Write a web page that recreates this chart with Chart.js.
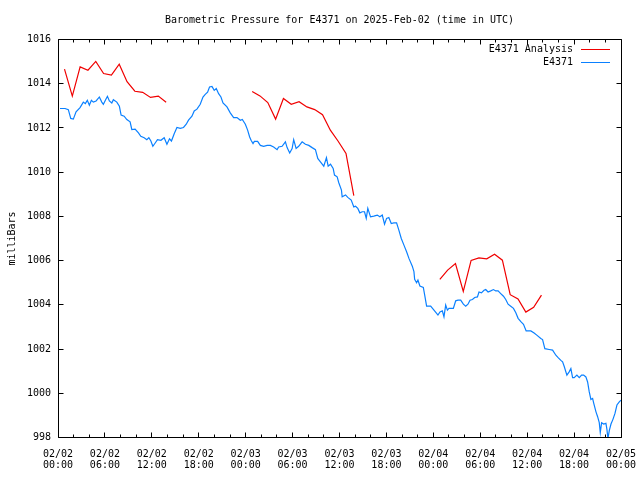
<!DOCTYPE html>
<html>
<head>
<meta charset="utf-8">
<script src="https://cdn.jsdelivr.net/npm/chart.js@4.4.1/dist/chart.umd.min.js"></script>
<style>
  html, body { margin: 0; padding: 0; background: #fff; }
</style>
</head>
<body>
<canvas id="chart" width="640" height="480"></canvas>
<script>
const titleText = "Barometric Pressure for E4371 on 2025-Feb-02 (time in UTC)";
const yTitle = "milliBars";
const seriesNames = ["E4371 Analysis", "E4371"];
const seriesColors = ["#f00000", "#0a80ff"];

// tick labels every 6 hours from 02/02 00:00
const dayLabels = ["02/02", "02/02", "02/02", "02/02", "02/03", "02/03", "02/03", "02/03", "02/04", "02/04", "02/04", "02/04", "02/05"];
const timeLabels = ["00:00", "06:00", "12:00", "18:00", "00:00", "06:00", "12:00", "18:00", "00:00", "06:00", "12:00", "18:00", "00:00"];

// analysis, hours since 02/02 00:00 (null = gap)
const analysisHours = [0.83, 1.83, 2.83, 3.83, 4.83, 5.83, 6.83, 7.83, 8.83, 9.83, 10.83, 11.83, 12.83, 13.83,
  19,
  24.83, 25.83, 26.83, 27.83, 28.83, 29.83, 30.83, 31.83, 32.83, 33.83, 34.83, 35.83, 36.83, 37.83,
  43,
  48.83, 49.83, 50.83, 51.83, 52.83, 53.83, 54.83, 55.83, 56.83, 57.83, 58.83, 59.83, 60.83, 61.83];
const analysisMb = [1014.66, 1013.44, 1014.76, 1014.61, 1015.01, 1014.46, 1014.39, 1014.88, 1014.09, 1013.66, 1013.61, 1013.38, 1013.44, 1013.16,
  null,
  1013.65, 1013.45, 1013.15, 1012.40, 1013.33, 1013.07, 1013.19, 1012.95, 1012.83, 1012.60, 1011.90, 1011.40, 1010.85, 1008.94,
  null,
  1005.15, 1005.57, 1005.87, 1004.61, 1006.01, 1006.12, 1006.08, 1006.29, 1006.02, 1004.46, 1004.27, 1003.67, 1003.89, 1004.44];

// station observations
const obsHours = [0.26, 0.90, 1.32, 1.63, 1.96, 2.31, 2.82, 3.24, 3.50, 3.75, 4.01, 4.27, 4.52, 4.87, 5.29, 5.60, 5.80,
  6.06, 6.32, 6.57, 6.88, 7.08, 7.52, 7.85, 8.07, 8.46, 8.80, 9.22, 9.44, 9.86, 10.29, 10.59, 11.02, 11.36, 11.62, 11.88,
  12.13, 12.43, 12.72, 13.16, 13.58, 13.93, 14.26, 14.51, 14.86, 15.21, 15.63, 16.05, 16.40, 16.69, 17.13, 17.42, 17.77,
  18.19, 18.54, 18.83, 19.13, 19.38, 19.69, 19.98, 20.24, 20.54, 20.84, 21.10, 21.61, 22.03, 22.46, 22.89, 23.32, 23.57, 23.96,
  24.25, 24.51, 24.69, 24.94, 25.11, 25.53, 25.88, 26.30, 26.74, 27.16, 27.58, 28.02, 28.22, 28.66, 29.08, 29.30, 29.63, 29.94,
  30.14, 30.45, 30.78, 31.22, 31.64, 32.07, 32.50, 32.92, 33.22, 33.56, 33.99, 34.33, 34.55, 34.85, 35.19, 35.36, 35.70, 35.91,
  36.25, 36.34, 36.77, 37.06, 37.50, 37.83, 38.05, 38.34, 38.60, 38.91, 39.20, 39.42, 39.62, 39.97, 40.39, 40.83, 41.16, 41.47,
  41.76, 42.02, 42.31, 42.62, 42.95, 43.30, 43.59, 43.90, 44.24, 44.58, 44.88, 45.31, 45.52, 45.61, 45.86, 46.03, 46.28, 46.72,
  46.89, 47.14, 47.66, 48.08, 48.42, 48.59, 48.85, 49.15, 49.36, 49.58, 49.80, 50.00, 50.56, 50.86, 51.15, 51.50, 51.84, 52.14,
  52.43, 52.69, 53.00, 53.29, 53.64, 53.84, 54.15, 54.48, 54.70, 55.00, 55.34, 55.69, 55.98, 56.28, 56.62, 56.97, 57.26, 57.56,
  57.90, 58.25, 58.55, 58.84, 59.19, 59.53, 59.87, 60.47, 60.89, 61.23, 61.75, 61.97, 62.26, 62.81, 63.25, 63.67, 63.96, 64.31,
  64.53, 64.73, 65.08, 65.37, 65.59, 65.81, 66.01, 66.36, 66.66, 66.96, 67.22, 67.51, 67.73, 67.94, 68.15, 68.37, 68.50, 68.80,
  69.01, 69.22, 69.35, 69.52, 69.78, 70.07, 70.20, 70.33, 70.50, 70.72, 70.97, 71.23, 71.48, 71.78, 72.00];
const obsMb = [1012.88, 1012.88, 1012.83, 1012.43, 1012.40, 1012.73, 1012.92, 1013.17, 1013.10, 1013.25, 1013.03, 1013.25, 1013.17, 1013.22, 1013.40, 1013.17, 1013.07,
  1013.25, 1013.43, 1013.22, 1013.13, 1013.28, 1013.17, 1012.98, 1012.58, 1012.53, 1012.38, 1012.28, 1011.93, 1011.95, 1011.78, 1011.62, 1011.56, 1011.47, 1011.56, 1011.41,
  1011.17, 1011.32, 1011.47, 1011.44, 1011.56, 1011.26, 1011.51, 1011.41, 1011.74, 1012.02, 1011.98, 1012.02, 1012.17, 1012.35, 1012.53, 1012.77, 1012.85,
  1013.07, 1013.40, 1013.52, 1013.62, 1013.85, 1013.88, 1013.70, 1013.78, 1013.55, 1013.40, 1013.13, 1012.95, 1012.68, 1012.47, 1012.47, 1012.35, 1012.38, 1012.17,
  1011.90, 1011.59, 1011.44, 1011.29, 1011.39, 1011.39, 1011.21, 1011.17, 1011.21, 1011.21, 1011.14, 1011.02, 1011.14, 1011.17, 1011.37, 1011.11, 1010.87, 1011.07,
  1011.47, 1011.07, 1011.17, 1011.37, 1011.26, 1011.21, 1011.11, 1011.02, 1010.62, 1010.47, 1010.27, 1010.66, 1010.27, 1010.36, 1010.17, 1009.87, 1009.79, 1009.52,
  1009.19, 1008.89, 1008.97, 1008.86, 1008.74, 1008.43, 1008.46, 1008.36, 1008.16, 1008.21, 1008.21, 1007.91, 1008.36, 1007.98, 1008.01, 1008.06, 1007.98, 1008.06,
  1007.65, 1007.91, 1007.95, 1007.68, 1007.71, 1007.71, 1007.38, 1007.00, 1006.70, 1006.40, 1006.10, 1005.75, 1005.50, 1005.15, 1005.00, 1005.12, 1004.85, 1004.79,
  1004.45, 1003.94, 1003.94, 1003.76, 1003.61, 1003.54, 1003.68, 1003.73, 1003.46, 1003.99, 1003.76, 1003.84, 1003.84, 1004.18, 1004.21, 1004.21, 1004.03, 1003.94,
  1004.03, 1004.21, 1004.24, 1004.33, 1004.36, 1004.58, 1004.54, 1004.66, 1004.69, 1004.58, 1004.63, 1004.69, 1004.63, 1004.63, 1004.51, 1004.39, 1004.24, 1004.03,
  1003.94, 1003.84, 1003.64, 1003.39, 1003.24, 1003.12, 1002.82, 1002.82, 1002.73, 1002.63, 1002.48, 1002.43, 1002.02, 1001.98, 1001.95, 1001.72, 1001.61, 1001.49,
  1001.42, 1001.22, 1000.82, 1000.97, 1001.12, 1000.71, 1000.71, 1000.82, 1000.71, 1000.82, 1000.82, 1000.74, 1000.51, 1000.06, 999.72, 999.77, 999.57, 999.16,
  998.94, 998.67, 998.22, 998.67, 998.61, 998.64, 998.37, 997.95, 998.31, 998.61, 998.82, 999.09, 999.47, 999.61, 999.69];

const mono = "'DejaVu Sans Mono', monospace";

function toPoints(hours, values) {
  let pts = [];
  for (let i = 0; i < hours.length; i++) {
    pts.push({ x: hours[i], y: values[i] });
  }
  return pts;
}

// gnuplot style box with inward ticks on all 4 sides, title centred on the plot, legend
const framePlugin = {
  id: "frame",
  afterDraw(chart) {
    const ctx = chart.ctx;
    const ca = chart.chartArea;
    const xs = chart.scales.x;
    const ys = chart.scales.y;
    const L = Math.floor(ca.left) + 0.5, R = Math.floor(ca.right) + 0.5;
    const T = Math.floor(ca.top) + 0.5, B = Math.floor(ca.bottom) + 0.5;
    ctx.save();
    ctx.strokeStyle = "#000";
    ctx.lineWidth = 1;
    ctx.beginPath();
    ctx.rect(L, T, R - L, B - T);
    xs.ticks.forEach((t) => {
      const px = Math.floor(xs.getPixelForValue(t.value)) + 0.5;
      const len = t.value % 6 === 0 ? 5 : 3;
      ctx.moveTo(px, B); ctx.lineTo(px, B - len);
      ctx.moveTo(px, T); ctx.lineTo(px, T + len);
    });
    ys.ticks.forEach((t) => {
      const py = Math.floor(ys.getPixelForValue(t.value)) + 0.5;
      ctx.moveTo(L, py); ctx.lineTo(L + 5, py);
      ctx.moveTo(R, py); ctx.lineTo(R - 5, py);
    });
    ctx.stroke();

    ctx.font = "10px " + mono;
    ctx.fillStyle = "#000";
    ctx.textAlign = "center";
    ctx.textBaseline = "middle";
    ctx.fillText(titleText, (ca.left + ca.right) / 2, 20);

    // legend, text to the left of the sample line
    ctx.textAlign = "right";
    chart.data.datasets.forEach((ds, i) => {
      const y = Math.floor(ca.top + 10 + i * 12.6) + 0.5;
      const lineEnd = ca.right - 11;
      const lineStart = lineEnd - 29;
      ctx.fillStyle = "#000";
      ctx.fillText(ds.label, lineStart - 8, y);
      ctx.strokeStyle = ds.borderColor;
      ctx.beginPath();
      ctx.moveTo(lineStart, y);
      ctx.lineTo(lineEnd, y);
      ctx.stroke();
    });
    ctx.restore();
  },
};

const chart = new Chart(document.getElementById("chart"), {
  type: "line",
  data: {
    datasets: [
      {
        label: seriesNames[0],
        data: toPoints(analysisHours, analysisMb),
        borderColor: seriesColors[0],
        borderWidth: 1.2,
        pointRadius: 0,
        spanGaps: false,
      },
      {
        label: seriesNames[1],
        data: toPoints(obsHours, obsMb),
        borderColor: seriesColors[1],
        borderWidth: 1.2,
        pointRadius: 0,
      },
    ],
  },
  options: {
    responsive: false,
    animation: false,
    devicePixelRatio: 1,
    layout: { padding: { left: 0, right: 19, top: 39.5, bottom: 0 } },
    plugins: {
      legend: { display: false },
      tooltip: { enabled: false },
      title: { display: false },
    },
    scales: {
      x: {
        type: "linear",
        min: 0,
        max: 72,
        grid: { display: false, drawTicks: false },
        border: { display: false },
        ticks: {
          stepSize: 2,
          autoSkip: false,
          maxRotation: 0,
          padding: 11,
          color: "#000",
          font: { family: mono, size: 10, lineHeight: "11px" },
          callback: (v) => {
            if (v % 6 !== 0) return "";
            return [dayLabels[v / 6], timeLabels[v / 6]];
          },
        },
        afterFit: (s) => {
          s.height = 42.5;
          s.paddingLeft = 0;
          s.paddingRight = 0;
        },
      },
      y: {
        min: 998,
        max: 1016,
        grid: { display: false, drawTicks: false },
        border: { display: false },
        ticks: {
          stepSize: 2,
          padding: 7,
          color: "#000",
          font: { family: mono, size: 10 },
          callback: (v) => String(v),
        },
        title: {
          display: true,
          text: yTitle,
          color: "#000",
          font: { family: mono, size: 10, lineHeight: "11px" },
          padding: { top: 6.5, bottom: 0 },
        },
        afterFit: (s) => {
          s.width = 58;
          s.paddingTop = 0;
          s.paddingBottom = 0;
        },
      },
    },
  },
  plugins: [framePlugin],
});
</script>
</body>
</html>
